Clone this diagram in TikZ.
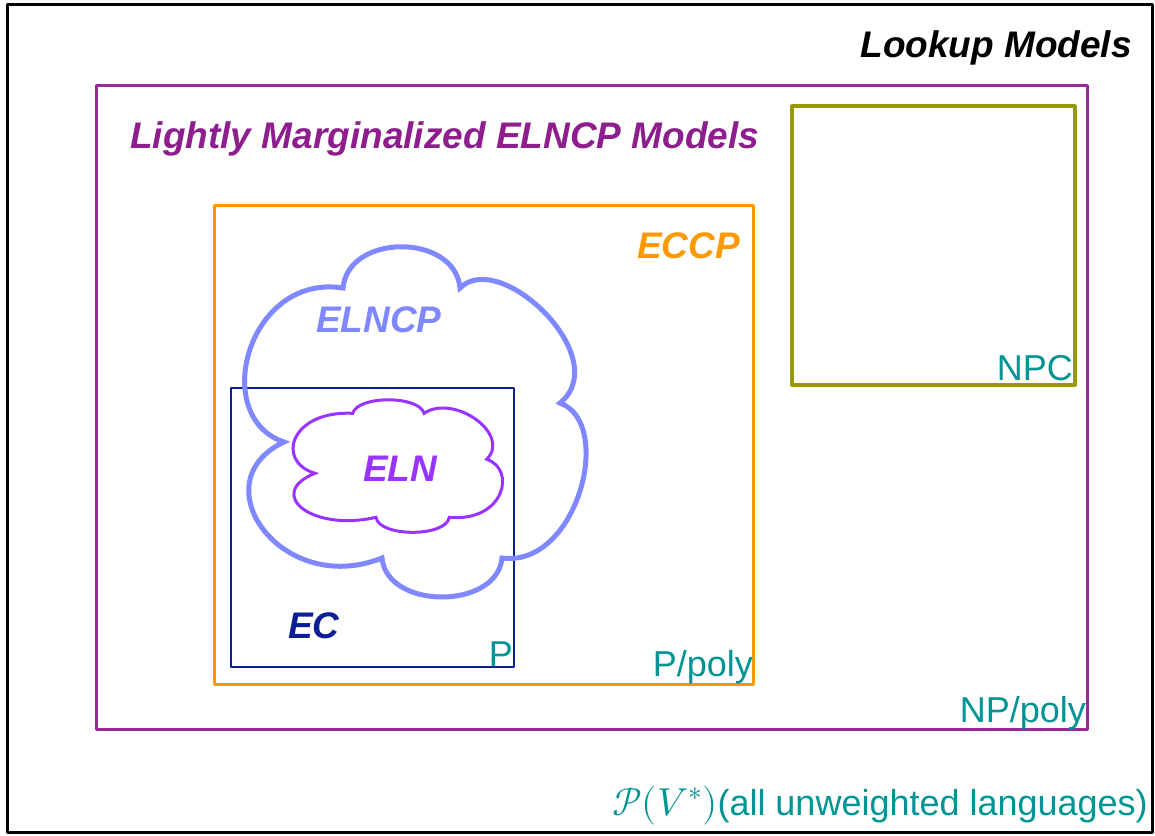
\documentclass[tikz,border=0pt]{standalone}
\usepackage{fontspec}
\setmainfont{Liberation Sans}
\usepackage{unicode-math}
\setmathfont{Latin Modern Math}
\definecolor{framepurple}{HTML}{982A98}
\definecolor{textpurple}{HTML}{8E1E8E}
\definecolor{eccporange}{HTML}{FF9900}
\definecolor{ecnavy}{HTML}{0A1E96}
\definecolor{npcolive}{HTML}{999900}
\definecolor{classteal}{HTML}{009494}
\definecolor{cloudblue}{HTML}{7F88FF}
\definecolor{elnviolet}{HTML}{9933FF}
\tikzset{
  boldlabel/.style={inner sep=0pt, font=\fontsize{37}{40}\selectfont\bfseries\itshape},
  classlabel/.style={inner sep=0pt, text=classteal, font=\fontsize{36}{40}\selectfont},
  setbox/.style={line join=round, line cap=round}
}
\begin{document}
\begin{tikzpicture}[x=1pt,y=-1pt]
\useasboundingbox (0,0) rectangle (1155,835);
% outer frame
\draw[setbox, line width=2.5pt, black] (7.5,4.5) rectangle (1152.5,832.5);
% lightly marginalized ELNCP
\draw[setbox, line width=3pt, framepurple] (96,85) rectangle (1087,729);
% NPC
\draw[setbox, line width=3.2pt, npcolive] (792,106) rectangle (1075,385);
% ECCP
\draw[setbox, line width=3pt, eccporange] (214,205) rectangle (753,684);
% EC
\draw[setbox, line width=2.8pt, ecnavy] (231,388) rectangle (514,667);
% ELNCP cloud
\draw[line width=5pt, cloudblue, line join=miter]
  (343,288) .. controls +(5,-55) and +(-5,-55) .. (460,288)
            .. controls +(40,-40) and +(55,-45) .. (560,403)
            .. controls +(55,20) and +(75,10) .. (502,558)
            .. controls +(-5,52) and +(5,52) .. (382,558)
            .. controls +(-100,40) and +(-85,40) .. (284,442)
            .. controls +(-75,-25) and +(-95,-15) .. (343,288) -- cycle;
% ELN cloud
\draw[line width=3pt, elnviolet, line join=miter]
  (352.7,413.3) .. controls +(5,-18) and +(-5,-18) .. (424,413.3)
                .. controls +(30,-20) and +(25,-25) .. (486.7,459.3)
                .. controls +(30,10) and +(55,5) .. (449.3,517.3)
                .. controls +(-3,20) and +(3,20) .. (376,517.3)
                .. controls +(-65,15) and +(-50,20) .. (315,473.3)
                .. controls +(-40,-12) and +(-62,-3) .. (352.7,413.3) -- cycle;
% labels
\node[boldlabel, anchor=base east] (lookup) at (1132,57) {Lookup Models};
\node[boldlabel, text=textpurple, anchor=base west] (lmelncp) at (130,148) {Lightly Marginalized ELNCP Models};
\node[boldlabel, text=eccporange, anchor=base east] (eccp) at (740,258) {ECCP};
\node[boldlabel, text=cloudblue, anchor=base west] (elncp) at (316,332) {ELNCP};
\node[boldlabel, text=elnviolet, anchor=base west] (eln) at (363,481) {ELN};
\node[boldlabel, text=ecnavy, anchor=base west] (ec) at (288,638) {EC};
\node[classlabel, anchor=base east] (npc) at (1073,380) {NPC};
\node[classlabel, anchor=base east] (p) at (513,666) {P};
\node[classlabel, anchor=base east] (ppoly) at (753,676) {P/poly};
\node[classlabel, anchor=base east] (nppoly) at (1086,722) {NP/poly};
\node[classlabel, anchor=base east] (all) at (1148,815) {{\fontsize{39}{40}\selectfont$\mathcal{P}(V^*)$}(all unweighted languages)};
\end{tikzpicture}
\end{document}
